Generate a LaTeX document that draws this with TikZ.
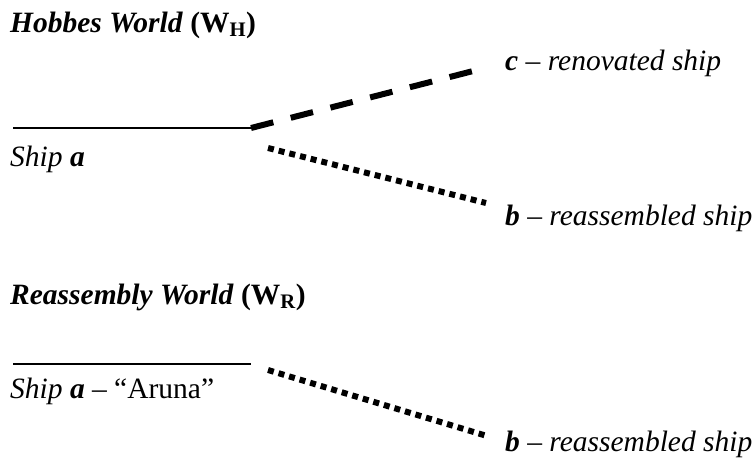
\documentclass[tikz,border=0pt]{standalone}
\usepackage{fontspec}
\setmainfont{Liberation Serif}
\usetikzlibrary{positioning}

\begin{document}
\begin{tikzpicture}[x=1pt, y=-1pt,
    lbl/.style={anchor=base west, inner sep=0pt, font=\fontsize{29.5}{35}\selectfont},
    shipline/.style={line width=1.8pt},
    renov/.style={line width=6pt, dash pattern=on 23pt off 18pt},
    reasm/.style={line width=6pt, dash pattern=on 6pt off 5pt}
  ]
  \useasboundingbox (0,0) rectangle (755,466);

  % Hobbes world
  \node[lbl] (hobbes) at (10,32) {\textbf{\textit{Hobbes World}} \textbf{(W\textsubscript{H})}};
  \coordinate (hl) at (13,128);
  \coordinate (hr) at (251,128);
  \node[lbl] (shipH) at (10,166) {\textit{Ship \textbf{a}}};
  \node[lbl] (cH) at (505,70) {\textbf{\textit{c}} -- \textit{renovated ship}};
  \node[lbl] (bH) at (505,225) {\textbf{\textit{b}} -- \textit{reassembled ship}};
  \coordinate (dashend) at (481,69);
  \coordinate (dotstart) at (268,148);
  \coordinate (dotend) at (486,203);
  \draw[shipline] (hl) -- (hr);
  \draw[renov] (hr) -- (dashend);
  \draw[reasm] (dotstart) -- (dotend);

  % Reassembly world
  \node[lbl] (reasmW) at (10,304) {\textbf{\textit{Reassembly World}} \textbf{(W\textsubscript{R})}};
  \coordinate (rl) at (13,364);
  \coordinate (rr) at (251,364);
  \node[lbl] (shipR) at (10,398) {\textit{Ship \textbf{a}} -- ``Aruna''};
  \node[lbl] (bR) at (505,451) {\textbf{\textit{b}} -- \textit{reassembled ship}};
  \coordinate (dotstartR) at (268,370);
  \coordinate (dotendR) at (487,436);
  \draw[shipline] (rl) -- (rr);
  \draw[reasm] (dotstartR) -- (dotendR);
\end{tikzpicture}
\end{document}
